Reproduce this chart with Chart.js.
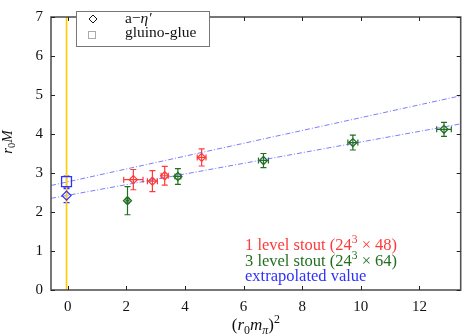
<!DOCTYPE html>
<html>
<head>
<meta charset="utf-8">
<script src="https://cdn.jsdelivr.net/npm/chart.js@4/dist/chart.umd.min.js"></script>
<style>
  html, body { margin: 0; padding: 0; background: #fff; }
  #wrap { width: 469px; height: 336px; }
</style>
</head>
<body>
<div id="wrap"><canvas id="chart" width="469" height="336"></canvas></div>
<script>
// --------------------
// Data
// --------------------
const redX = [2.24, 2.89, 3.31, 4.57];
const redY = [2.83, 2.79, 2.93, 3.40];
const redXErr = [0.33, 0.17, 0.12, 0.15];
const redYErr = [0.26, 0.27, 0.24, 0.22];

const greenX = [2.04, 3.76, 6.68, 9.73, 12.84];
const greenY = [2.29, 2.91, 3.32, 3.78, 4.12];
const greenXErr = [0.05, 0.10, 0.17, 0.17, 0.25];
const greenYErr = [0.36, 0.20, 0.18, 0.19, 0.18];

const extrapDiamondX = [-0.04];
const extrapDiamondY = [2.42];
const extrapDiamondErr = [0.18];
const extrapSquareX = [-0.04];
const extrapSquareY = [2.78];
const extrapSquareErr = [0.14];

const fitX = [-0.57, 13.41];
const upperFitY = [2.68, 4.98];
const lowerFitY = [2.35, 4.26];

const chiralX = [-0.04, -0.04];
const chiralY = [0, 7];

const xTicks = [0, 2, 4, 6, 8, 10, 12];
const yTicks = [0, 1, 2, 3, 4, 5, 6, 7];

// --------------------
// Styles
// --------------------
const RED = '#ff3a3a';
const GREEN = '#226f22';
const BLUE = '#3030ff';
const FIT = 'rgba(80,80,255,0.75)';
const SERIF = '"Liberation Serif", "DejaVu Serif", serif';

const pts = (xs, ys) => xs.map((x, i) => ({ x, y: ys[i] }));

// --------------------
// Helpers
// --------------------
function richText(ctx, x, y, parts, size, color, align) {
  // parts: [{t, sub, sup, it}]
  const fontFor = p => {
    const s = (p.sub || p.sup) ? size * 0.7 : size;
    return (p.it ? 'italic ' : '') + s + 'px ' + SERIF;
  };
  let total = 0;
  parts.forEach(p => { ctx.font = fontFor(p); total += ctx.measureText(p.t).width; });
  let cx = align === 'center' ? x - total / 2 : x;
  ctx.fillStyle = color;
  ctx.textBaseline = 'alphabetic';
  ctx.textAlign = 'left';
  parts.forEach(p => {
    ctx.font = fontFor(p);
    let dy = 0;
    if (p.sub) dy = size * 0.22;
    if (p.sup) dy = -size * 0.4;
    ctx.fillText(p.t, cx, y + dy);
    cx += ctx.measureText(p.t).width;
  });
}

function errorBars(ctx, xs, sc, xv, yv, xe, ye, color) {
  const cap = 3;
  ctx.strokeStyle = color;
  ctx.lineWidth = 1.2;
  xv.forEach((x, i) => {
    const px = xs.getPixelForValue(x);
    const py = sc.getPixelForValue(yv[i]);
    if (ye && ye[i]) {
      const t = sc.getPixelForValue(yv[i] + ye[i]);
      const b = sc.getPixelForValue(yv[i] - ye[i]);
      ctx.beginPath();
      ctx.moveTo(px, t); ctx.lineTo(px, b);
      ctx.moveTo(px - cap, t); ctx.lineTo(px + cap, t);
      ctx.moveTo(px - cap, b); ctx.lineTo(px + cap, b);
      ctx.stroke();
    }
    if (xe && xe[i]) {
      const l = xs.getPixelForValue(x - xe[i]);
      const r = xs.getPixelForValue(x + xe[i]);
      ctx.beginPath();
      ctx.moveTo(l, py); ctx.lineTo(r, py);
      ctx.moveTo(l, py - cap); ctx.lineTo(l, py + cap);
      ctx.moveTo(r, py - cap); ctx.lineTo(r, py + cap);
      ctx.stroke();
    }
  });
}

// --------------------
// Plugin: frame, inner ticks, error bars, legend, labels
// --------------------
const decorations = {
  id: 'decorations',
  beforeDatasetsDraw(chart) {
    const { ctx, scales: { x, y } } = chart;
    ctx.save();
    errorBars(ctx, x, y, redX, redY, redXErr, redYErr, RED);
    errorBars(ctx, x, y, greenX, greenY, greenXErr, greenYErr, GREEN);
    errorBars(ctx, x, y, extrapDiamondX, extrapDiamondY, null, extrapDiamondErr, BLUE);
    errorBars(ctx, x, y, extrapSquareX, extrapSquareY, null, extrapSquareErr, BLUE);
    ctx.restore();
  },
  afterDraw(chart) {
    const { ctx, chartArea: a, scales: { x, y } } = chart;
    ctx.save();

    // frame
    ctx.strokeStyle = '#555';
    ctx.lineWidth = 1.6;
    ctx.strokeRect(a.left, a.top, a.right - a.left, a.bottom - a.top);

    // inner ticks
    ctx.strokeStyle = '#222';
    ctx.lineWidth = 1;
    ctx.beginPath();
    xTicks.forEach(v => {
      const px = Math.round(x.getPixelForValue(v)) + 0.5;
      ctx.moveTo(px, a.bottom); ctx.lineTo(px, a.bottom - 4);
      ctx.moveTo(px, a.top); ctx.lineTo(px, a.top + 4);
    });
    yTicks.forEach(v => {
      const py = Math.round(y.getPixelForValue(v)) + 0.5;
      ctx.moveTo(a.left, py); ctx.lineTo(a.left + 4, py);
      ctx.moveTo(a.right, py); ctx.lineTo(a.right - 4, py);
    });
    ctx.stroke();

    // legend box
    ctx.fillStyle = '#fff';
    ctx.fillRect(76, 12, 133, 35);
    ctx.strokeStyle = '#777';
    ctx.lineWidth = 1;
    ctx.strokeRect(76.5, 11.5, 133, 35);
    ctx.strokeStyle = '#111';
    ctx.beginPath();
    ctx.moveTo(93, 15); ctx.lineTo(97, 19); ctx.lineTo(93, 23); ctx.lineTo(89, 19); ctx.closePath();
    ctx.stroke();
    ctx.strokeStyle = '#aaa';
    ctx.strokeRect(88.5, 31.5, 7, 7);
    richText(ctx, 125, 23, [{ t: 'a\u2212' }, { t: '\u03b7\u2032', it: true }], 15.5, '#111');
    richText(ctx, 125, 37, [{ t: 'gluino-glue' }], 15.5, '#111');

    // annotations
    richText(ctx, 245, 250, [{ t: '1 level stout (24' }, { t: '3', sup: true }, { t: ' \u00d7 48)' }], 16.5, RED);
    richText(ctx, 245, 266, [{ t: '3 level stout (24' }, { t: '3', sup: true }, { t: ' \u00d7 64)' }], 16.5, GREEN);
    richText(ctx, 245, 281, [{ t: 'extrapolated value' }], 16.5, BLUE);

    // axis titles
    const cx = (a.left + a.right) / 2;
    richText(ctx, cx, 330, [
      { t: '(' }, { t: 'r', it: true }, { t: '0', sub: true },
      { t: 'm', it: true }, { t: '\u03c0', it: true, sub: true },
      { t: ')' }, { t: '2', sup: true }
    ], 17, '#111', 'center');
    ctx.translate(12, 142);
    ctx.rotate(-Math.PI / 2);
    richText(ctx, 0, 0, [{ t: 'r', it: true }, { t: '0', sub: true }, { t: 'M', it: true }], 15, '#111', 'center');

    ctx.restore();
  }
};

// --------------------
// Chart
// --------------------
const markerDataset = (label, data, color, style, radius) => ({
  label,
  data,
  type: 'scatter',
  showLine: false,
  pointStyle: style,
  pointRadius: radius,
  pointBorderColor: color,
  pointBackgroundColor: 'rgba(255,255,255,0)',
  pointBorderWidth: 1.3,
  order: 0
});

const lineDataset = (label, data, color, dash, width) => ({
  label,
  data,
  type: 'line',
  showLine: true,
  fill: false,
  borderColor: color,
  borderWidth: width,
  borderDash: dash,
  pointRadius: 0,
  tension: 0,
  order: 2
});

new Chart(document.getElementById('chart'), {
  type: 'scatter',
  data: {
    datasets: [
      lineDataset('chiral limit', pts(chiralX, chiralY), '#ffcc00', [], 1.6),
      lineDataset('fit gluino-glue', pts(fitX, upperFitY), FIT, [5, 2, 1, 2], 1),
      lineDataset('fit a-eta', pts(fitX, lowerFitY), FIT, [5, 2, 1, 2], 1),
      markerDataset('1 level stout', pts(redX, redY), RED, 'rectRot', 4),
      markerDataset('3 level stout', pts(greenX, greenY), GREEN, 'rectRot', 4),
      markerDataset('a-eta extrapolated', pts(extrapDiamondX, extrapDiamondY), BLUE, 'rectRot', 4.5),
      markerDataset('gluino-glue extrapolated', pts(extrapSquareX, extrapSquareY), BLUE, 'rect', 7)
    ]
  },
  options: {
    responsive: false,
    animation: false,
    layout: { padding: { top: 7, right: 1, left: 0, bottom: 0 } },
    plugins: { legend: { display: false }, tooltip: { enabled: false } },
    scales: {
      x: {
        type: 'linear',
        min: -0.57,
        max: 13.41,
        afterBuildTicks: s => { s.ticks = xTicks.map(v => ({ value: v })); },
        afterFit: s => { s.height = 46; },
        grid: { display: false, drawTicks: false },
        border: { display: false },
        ticks: { padding: 8, maxRotation: 0, autoSkip: false, color: '#111', font: { family: SERIF, size: 15 } }
      },
      y: {
        type: 'linear',
        min: 0,
        max: 7,
        afterBuildTicks: s => { s.ticks = yTicks.map(v => ({ value: v })); },
        afterFit: s => { s.width = 51; },
        grid: { display: false, drawTicks: false },
        border: { display: false },
        ticks: { padding: 8, color: '#111', font: { family: SERIF, size: 15 } }
      }
    }
  },
  plugins: [decorations]
});
</script>
</body>
</html>
